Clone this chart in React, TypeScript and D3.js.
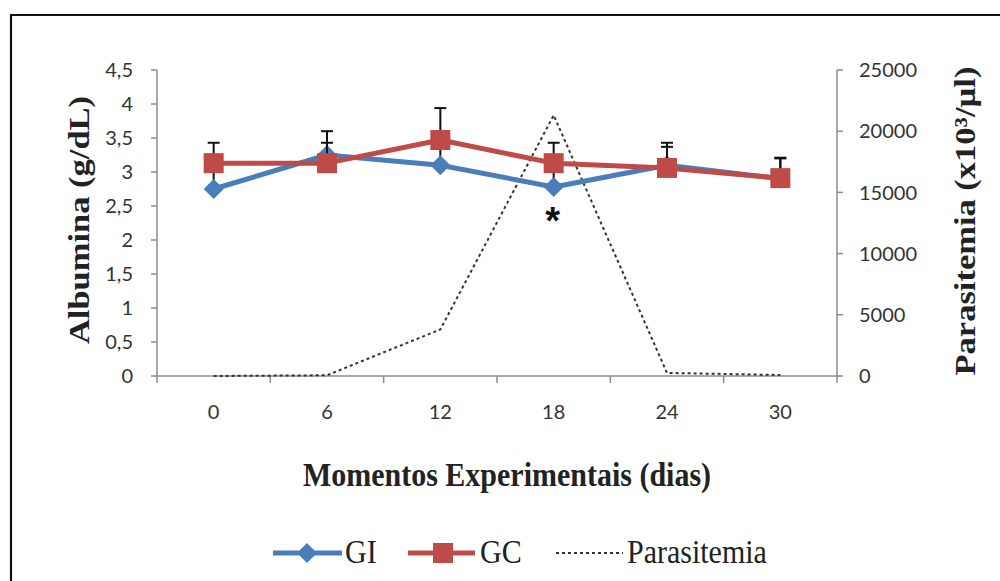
import React from "react";
import * as d3 from "d3";

// Experimental moments (days)
const days: string[] = ["0", "6", "12", "18", "24", "30"];
// Serum albumin (g/dL), infected group
const giValues: number[] = [2.75, 3.25, 3.1, 2.78, 3.1, 2.9];
const giErrors: number[] = [0.3, 0.35, 0.3, 0.3, 0.33, 0.3];
// Serum albumin (g/dL), control group
const gcValues: number[] = [3.13, 3.13, 3.47, 3.13, 3.06, 2.91];
const gcErrors: number[] = [0.3, 0.3, 0.47, 0.3, 0.31, 0.3];
// Parasitemia (x10³/µl)
const parasitemia: number[] = [0, 60, 3800, 21300, 250, 80];

const leftTicks: number[] = [0, 0.5, 1, 1.5, 2, 2.5, 3, 3.5, 4, 4.5];
const rightTicks: number[] = [0, 5000, 10000, 15000, 20000, 25000];

const W = 1000;
const H = 581;
const M = { left: 157, right: 837, top: 70, bottom: 376 };

const BLUE = "#4A7EBB";
const RED = "#BE4B48";
const AXIS = "#8c8c8c";
const TICK_FONT = "Lato, 'Liberation Sans', sans-serif";
const SERIF = "'Liberation Serif', 'Times New Roman', serif";
const STRETCH = 1.15;

const fmt = (v: number) => String(v).replace(".", ",");

export default function App() {
  const x = d3.scaleBand<string>().domain(days).range([M.left, M.right]);
  const cx = (d: string) => (x(d) as number) + x.bandwidth() / 2;
  const yL = d3.scaleLinear().domain([0, 4.5]).range([M.bottom, M.top]);
  const yR = d3.scaleLinear().domain([0, 25000]).range([M.bottom, M.top]);

  const lineL = d3
    .line<number>()
    .x((_, i) => cx(days[i]))
    .y((v) => yL(v));
  const lineR = d3
    .line<number>()
    .x((_, i) => cx(days[i]))
    .y((v) => yR(v));

  const boundaries = [...days.map((d) => x(d) as number), M.right];

  const errorBars = (vals: number[], errs: number[], key: string) =>
    vals.map((v, i) => {
      const px = cx(days[i]);
      const y0 = yL(v);
      const y1 = yL(v + errs[i]);
      return (
        <g key={`${key}-${i}`} stroke="#111" strokeWidth={2}>
          <line x1={px} x2={px} y1={y0} y2={y1} />
          <line x1={px - 6} x2={px + 6} y1={y1} y2={y1} />
        </g>
      );
    });

  const diamond = (px: number, py: number, r: number) =>
    `M${px},${py - r}L${px + r},${py}L${px},${py + r}L${px - r},${py}Z`;

  const legendY = 553;

  return (
    <svg
      width={W}
      height={H}
      style={{ position: "absolute", left: 0, top: 0, background: "#fff" }}
    >
      <rect x={0} y={0} width={W} height={H} fill="#fff" />
      {/* outer frame */}
      <path d={`M11,${H + 5}V15H${W + 5}`} fill="none" stroke="#111" strokeWidth={2.2} />

      {/* left axis */}
      <line x1={M.left} x2={M.left} y1={M.top} y2={M.bottom} stroke={AXIS} strokeWidth={1.5} />
      {leftTicks.map((t) => (
        <g key={`lt-${t}`}>
          <line x1={M.left - 6} x2={M.left} y1={yL(t)} y2={yL(t)} stroke={AXIS} strokeWidth={1.5} />
          <text
            x={133}
            y={yL(t)}
            dy="0.36em"
            textAnchor="end"
            fontFamily={TICK_FONT}
            fontSize={20}
            fill="#333"
          >
            {fmt(t)}
          </text>
        </g>
      ))}

      {/* right axis */}
      <line x1={M.right} x2={M.right} y1={M.top} y2={M.bottom} stroke={AXIS} strokeWidth={1.5} />
      {rightTicks.map((t) => (
        <g key={`rt-${t}`}>
          <line x1={M.right} x2={M.right + 6} y1={yR(t)} y2={yR(t)} stroke={AXIS} strokeWidth={1.5} />
          <text
            x={859}
            y={yR(t)}
            dy="0.36em"
            textAnchor="start"
            fontFamily={TICK_FONT}
            fontSize={20}
            fill="#333"
          >
            {t}
          </text>
        </g>
      ))}

      {/* x axis */}
      <line x1={M.left - 2} x2={M.right + 2} y1={M.bottom} y2={M.bottom} stroke={AXIS} strokeWidth={1.5} />
      {boundaries.map((b, i) => (
        <line key={`xt-${i}`} x1={b} x2={b} y1={M.bottom} y2={M.bottom + 7} stroke={AXIS} strokeWidth={1.5} />
      ))}
      {days.map((d) => (
        <text
          key={`xl-${d}`}
          x={cx(d)}
          y={412}
          textAnchor="middle"
          fontFamily={TICK_FONT}
          fontSize={20}
          fill="#333"
          dy="0.36em"
        >
          {d}
        </text>
      ))}

      {/* parasitemia */}
      <path
        d={lineR(parasitemia) as string}
        fill="none"
        stroke="#333"
        strokeWidth={2}
        strokeDasharray="3,3"
      />

      {/* GI series */}
      {errorBars(giValues, giErrors, "gi")}
      <path d={lineL(giValues) as string} fill="none" stroke={BLUE} strokeWidth={5} strokeLinejoin="round" />
      {giValues.map((v, i) => (
        <path key={`gim-${i}`} d={diamond(cx(days[i]), yL(v), 10)} fill={BLUE} />
      ))}

      {/* GC series */}
      {errorBars(gcValues, gcErrors, "gc")}
      <path d={lineL(gcValues) as string} fill="none" stroke={RED} strokeWidth={5} strokeLinejoin="round" />
      {gcValues.map((v, i) => (
        <rect key={`gcm-${i}`} x={cx(days[i]) - 10} y={yL(v) - 10} width={20} height={20} fill={RED} />
      ))}

      {/* significance mark */}
      <text
        x={cx("18") - 1}
        y={yL(giValues[3]) + 47}
        textAnchor="middle"
        fontFamily="'Liberation Sans', Arial, sans-serif"
        fontWeight="bold"
        fontSize={38}
        fill="#111"
      >
        *
      </text>

      {/* axis titles */}
      <text
        transform={`translate(89,220) rotate(-90) scale(${STRETCH},1)`}
        textAnchor="middle"
        fontFamily={SERIF}
        fontWeight="bold"
        fontSize={30}
        fill="#222"
      >
        Albumina (g/dL)
      </text>
      <text
        transform={`translate(975,221) rotate(-90) scale(${STRETCH},1)`}
        textAnchor="middle"
        fontFamily={SERIF}
        fontWeight="bold"
        fontSize={30}
        fill="#222"
      >
        Parasitemia (x10³/µl)
      </text>
      <text
        transform={`translate(507,486) scale(1,${STRETCH})`}
        textAnchor="middle"
        fontFamily={SERIF}
        fontWeight="bold"
        fontSize={30}
        fill="#222"
      >
        Momentos Experimentais (dias)
      </text>

      {/* legend */}
      <g>
        <line x1={273} x2={342} y1={legendY} y2={legendY} stroke={BLUE} strokeWidth={5} />
        <path d={diamond(307, legendY, 10)} fill={BLUE} />
        <text
          transform={`translate(345,${legendY + 10}) scale(1,${STRETCH})`}
          fontFamily={SERIF}
          fontSize={30}
          fill="#222"
        >
          GI
        </text>
        <line x1={408} x2={475} y1={legendY} y2={legendY} stroke={RED} strokeWidth={5} />
        <rect x={433} y={legendY - 10} width={20} height={20} fill={RED} />
        <text
          transform={`translate(480,${legendY + 10}) scale(1,${STRETCH})`}
          fontFamily={SERIF}
          fontSize={30}
          fill="#222"
        >
          GC
        </text>
        <line
          x1={556}
          x2={623}
          y1={legendY}
          y2={legendY}
          stroke="#333"
          strokeWidth={2}
          strokeDasharray="3,3"
        />
        <text
          transform={`translate(627,${legendY + 10}) scale(1,${STRETCH})`}
          fontFamily={SERIF}
          fontSize={30}
          fill="#222"
        >
          Parasitemia
        </text>
      </g>
    </svg>
  );
}
